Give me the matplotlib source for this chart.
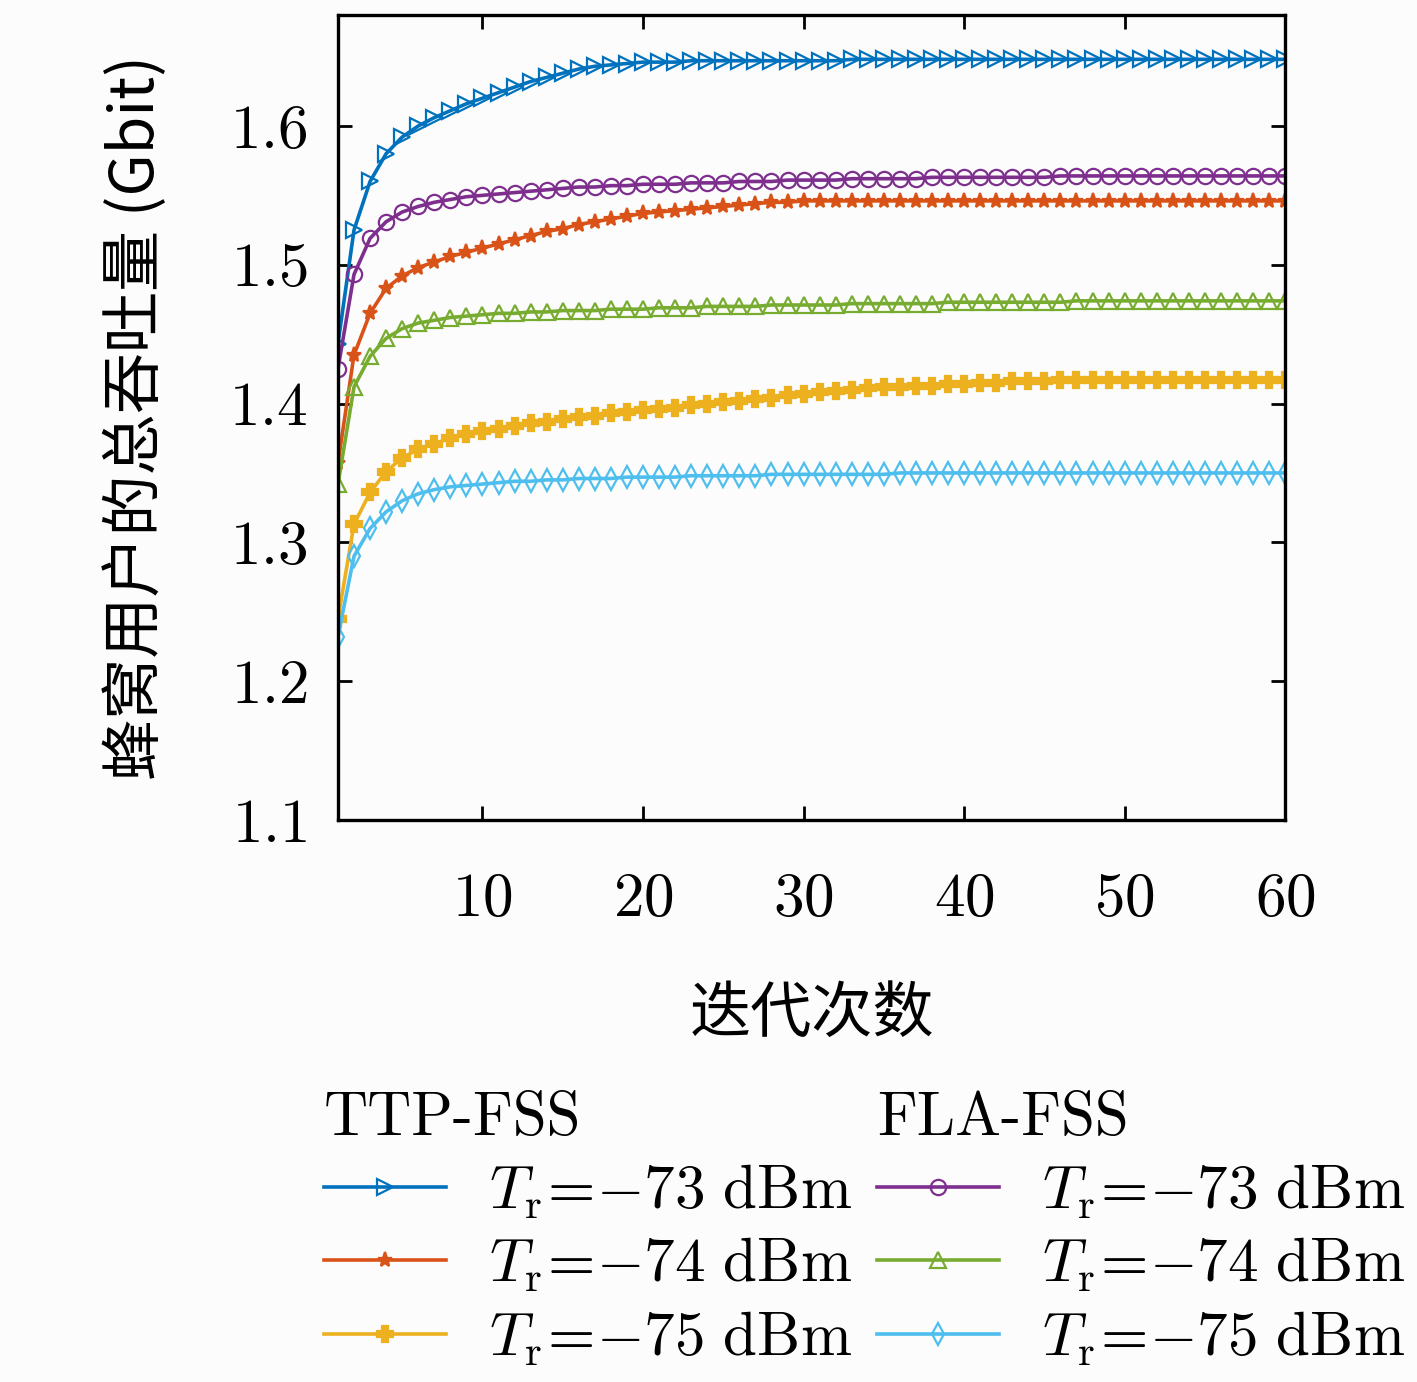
import matplotlib

matplotlib.use("Agg")
import matplotlib.pyplot as plt

plt.rcParams["font.family"] = ["cmr10", "DejaVu Serif"]
plt.rcParams["mathtext.fontset"] = "cm"
plt.rcParams["axes.formatter.use_mathtext"] = True
plt.rcParams["axes.unicode_minus"] = False

iters = list(range(1, 61))

ttp_73 = [1.443, 1.525, 1.560, 1.580, 1.592, 1.600, 1.606, 1.611, 1.616, 1.620,
          1.624, 1.628, 1.632, 1.635, 1.638, 1.641, 1.643, 1.644, 1.645, 1.646,
          1.646, 1.646, 1.647, 1.647, 1.647, 1.647, 1.647, 1.647, 1.647, 1.647,
          1.647, 1.647, 1.648, 1.648, 1.648, 1.648, 1.648, 1.648, 1.648, 1.648,
          1.648, 1.648, 1.648, 1.648, 1.648, 1.648, 1.648, 1.648, 1.648, 1.648,
          1.648, 1.648, 1.648, 1.648, 1.648, 1.648, 1.648, 1.648, 1.648, 1.648]
ttp_74 = [1.357, 1.435, 1.465, 1.483, 1.492, 1.498, 1.502, 1.506, 1.509, 1.512,
          1.515, 1.518, 1.521, 1.524, 1.526, 1.529, 1.531, 1.533, 1.535, 1.537,
          1.538, 1.539, 1.540, 1.541, 1.542, 1.543, 1.544, 1.545, 1.545, 1.546,
          1.546, 1.546, 1.546, 1.546, 1.546, 1.546, 1.546, 1.546, 1.546, 1.546,
          1.546, 1.546, 1.546, 1.546, 1.546, 1.546, 1.546, 1.546, 1.546, 1.546,
          1.546, 1.546, 1.546, 1.546, 1.546, 1.546, 1.546, 1.546, 1.546, 1.546]
ttp_75 = [1.245, 1.313, 1.336, 1.351, 1.361, 1.367, 1.371, 1.375, 1.378, 1.380,
          1.382, 1.384, 1.386, 1.387, 1.389, 1.390, 1.391, 1.393, 1.394, 1.395,
          1.396, 1.397, 1.399, 1.400, 1.401, 1.402, 1.403, 1.404, 1.406, 1.407,
          1.408, 1.409, 1.410, 1.411, 1.412, 1.412, 1.413, 1.413, 1.414, 1.414,
          1.415, 1.415, 1.416, 1.416, 1.416, 1.417, 1.417, 1.417, 1.417, 1.417,
          1.417, 1.417, 1.417, 1.417, 1.417, 1.417, 1.417, 1.417, 1.417, 1.417]
fla_73 = [1.425, 1.493, 1.519, 1.531, 1.538, 1.542, 1.545, 1.547, 1.549, 1.550,
          1.551, 1.552, 1.553, 1.554, 1.555, 1.556, 1.556, 1.557, 1.557, 1.558,
          1.558, 1.558, 1.559, 1.559, 1.559, 1.560, 1.560, 1.560, 1.561, 1.561,
          1.561, 1.561, 1.562, 1.562, 1.562, 1.562, 1.562, 1.563, 1.563, 1.563,
          1.563, 1.563, 1.563, 1.563, 1.563, 1.564, 1.564, 1.564, 1.564, 1.564,
          1.564, 1.564, 1.564, 1.564, 1.564, 1.564, 1.564, 1.564, 1.564, 1.564]
fla_74 = [1.342, 1.412, 1.434, 1.447, 1.454, 1.458, 1.460, 1.462, 1.463, 1.464,
          1.465, 1.465, 1.466, 1.466, 1.467, 1.467, 1.467, 1.468, 1.468, 1.468,
          1.469, 1.469, 1.469, 1.470, 1.470, 1.470, 1.470, 1.471, 1.471, 1.471,
          1.471, 1.471, 1.472, 1.472, 1.472, 1.472, 1.472, 1.472, 1.473, 1.473,
          1.473, 1.473, 1.473, 1.473, 1.473, 1.473, 1.474, 1.474, 1.474, 1.474,
          1.474, 1.474, 1.474, 1.474, 1.474, 1.474, 1.474, 1.474, 1.474, 1.474]
fla_75 = [1.232, 1.290, 1.310, 1.322, 1.330, 1.335, 1.338, 1.340, 1.341, 1.342,
          1.343, 1.344, 1.344, 1.345, 1.345, 1.346, 1.346, 1.346, 1.347, 1.347,
          1.347, 1.347, 1.348, 1.348, 1.348, 1.348, 1.348, 1.349, 1.349, 1.349,
          1.349, 1.349, 1.349, 1.349, 1.349, 1.350, 1.350, 1.350, 1.350, 1.350,
          1.350, 1.350, 1.350, 1.350, 1.350, 1.350, 1.350, 1.350, 1.350, 1.350,
          1.350, 1.350, 1.350, 1.350, 1.350, 1.350, 1.350, 1.350, 1.350, 1.350]

labels = [r"$T_{\rm r}\!=\!{-}" + f"{p}" + r"\ {\rm dBm}$" for p in (73, 74, 75)]

ttp_series = [
    (ttp_73, "#0072BD", ">", "none"),
    (ttp_74, "#D95319", "*", None),
    (ttp_75, "#EDB120", "P", None),
]
fla_series = [
    (fla_73, "#7E2F8E", "o", "none"),
    (fla_74, "#77AC30", "^", "none"),
    (fla_75, "#4DBEEE", "d", "none"),
]

fig = plt.figure(figsize=(14.17, 13.82), dpi=100)
fig.patch.set_facecolor("#fcfcfc")
ax = fig.add_axes([0.2385, 0.4067, 0.6685, 0.5825])
ax.set_facecolor("#fcfcfc")

handles = []
for vals, color, marker, mfc in ttp_series + fla_series:
    kw = dict(markerfacecolor=mfc) if mfc else {}
    (h,) = ax.plot(iters, vals, color=color, marker=marker, markersize=11,
                   linewidth=2.6, markeredgewidth=1.6, **kw)
    handles.append(h)

ax.set_xlim(1, 60)
ax.set_ylim(1.1, 1.68)
ax.set_xticks([10, 20, 30, 40, 50, 60])
ax.set_yticks([1.1, 1.2, 1.3, 1.4, 1.5, 1.6])
ax.tick_params(direction="in", length=10, width=2, labelsize=44, top=True, right=True)
ax.tick_params(axis="x", pad=38)
ax.tick_params(axis="y", pad=22)
for s in ax.spines.values():
    s.set_linewidth(2.4)
ax.set_xlabel("迭代次数", family=["Noto Sans CJK SC"], fontsize=44, labelpad=40)
ax.set_ylabel("蜂窝用户的总吞吐量 (Gbit)", family=["Noto Sans CJK SC"], fontsize=44, labelpad=44)

lkw = dict(frameon=False, fontsize=44, handlelength=2.0, handletextpad=0.7,
           labelspacing=0.25, title_fontsize=44, alignment="left")
fig.legend(handles[:3], labels, loc="upper left", bbox_to_anchor=(0.19, 0.25),
           title="TTP-FSS", **lkw)
fig.legend(handles[3:], labels, loc="upper left", bbox_to_anchor=(0.58, 0.25),
           title="FLA-FSS", **lkw)

fig.savefig("out.png", dpi=100, facecolor=fig.get_facecolor())
plt.close(fig)
